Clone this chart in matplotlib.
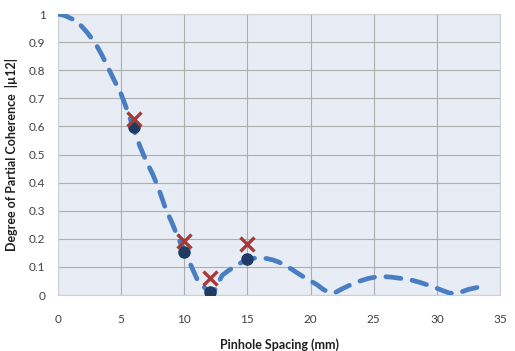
import matplotlib.pyplot as plt
import numpy as np

# curve
curve_x = [0, 0.5, 1.5, 2.3, 3.0, 3.5, 4.0, 4.5, 5.0, 5.5, 6.0, 6.5, 7.0, 7.5, 8.0,
           8.5, 9.0, 9.5, 10.0, 10.5, 11.0, 11.5, 12.0, 12.3, 12.6, 13.0, 13.5, 14.0,
           14.5, 15.0, 15.5, 16.0, 16.5, 17.0, 17.5, 18.0, 18.5, 19.0, 19.5, 20.0,
           20.5, 21.0, 21.5, 22.0, 22.5, 23.0, 23.5, 24.0, 24.5, 25.0, 25.5, 26.0,
           26.5, 27.0, 27.5, 28.0, 28.5, 29.0, 29.5, 30.0, 30.5, 31.0, 31.5, 32.0,
           32.5, 33.0, 33.3]
curve_y = [1.0, 0.995, 0.975, 0.935, 0.893, 0.852, 0.806, 0.76, 0.715, 0.655, 0.59,
           0.528, 0.475, 0.43, 0.375, 0.31, 0.26, 0.205, 0.155, 0.108, 0.058, 0.03,
           0.012, 0.006, 0.035, 0.07, 0.087, 0.102, 0.115, 0.125, 0.131, 0.132, 0.13,
           0.125, 0.117, 0.105, 0.092, 0.077, 0.063, 0.05, 0.037, 0.02, 0.008, 0.01,
           0.022, 0.033, 0.043, 0.051, 0.058, 0.063, 0.065, 0.065, 0.063, 0.06, 0.057,
           0.053, 0.047, 0.04, 0.032, 0.024, 0.015, 0.007, 0.005, 0.012, 0.02, 0.025,
           0.028]

# measured points
meas_x = [6, 10, 12, 15]
meas_circle = [0.597, 0.152, 0.012, 0.127]
meas_cross = [0.625, 0.193, 0.062, 0.181]

xticks = np.arange(0, 40, 5)
yticks = np.arange(0, 1.01, 0.1)
ytick_labels = ['0', '0.1', '0.2', '0.3', '0.4', '0.5', '0.6', '0.7', '0.8', '0.9', '1']

plt.rcParams['font.family'] = ['Lato', 'DejaVu Sans']

fig = plt.figure(figsize=(5.15, 3.51), dpi=100)
ax = fig.add_axes([0.1126, 0.1595, 0.8583, 0.8005])
ax.set_facecolor('#e8ecf4')

ax.plot(curve_x, curve_y, color='#4a7ec2', linewidth=3.4, dashes=(3.2, 2.4),
        solid_capstyle='round', dash_capstyle='round', zorder=3)
ax.plot(meas_x, meas_circle, linestyle='none', marker='o', markersize=8,
        color='#1f3a63', zorder=4)
ax.plot(meas_x, meas_cross, linestyle='none', marker='x', markersize=10,
        markeredgewidth=2.4, color='#a63a36', zorder=5)

ax.set_xlim(0, 35)
ax.set_ylim(0, 1)
ax.set_xticks(xticks)
ax.set_yticks(yticks)
ax.set_yticklabels(ytick_labels)
ax.grid(True, color='#aeaeae', linewidth=0.8)
ax.set_axisbelow(True)
ax.tick_params(length=0, labelsize=8.5, labelcolor='#404040')
ax.tick_params(axis='x', pad=14)
ax.tick_params(axis='y', pad=9)
for s in ax.spines.values():
    s.set_color('#d0d0d0')
    s.set_linewidth(0.8)

ax.set_xlabel('Pinhole Spacing (mm)', fontsize=9, color='#202020',
              fontweight='bold', labelpad=9)
ax.set_ylabel('Degree of Partial Coherence  |µ12|', fontsize=9, color='#202020',
              fontweight='bold', labelpad=8)

fig.savefig('out.png', dpi=100)
